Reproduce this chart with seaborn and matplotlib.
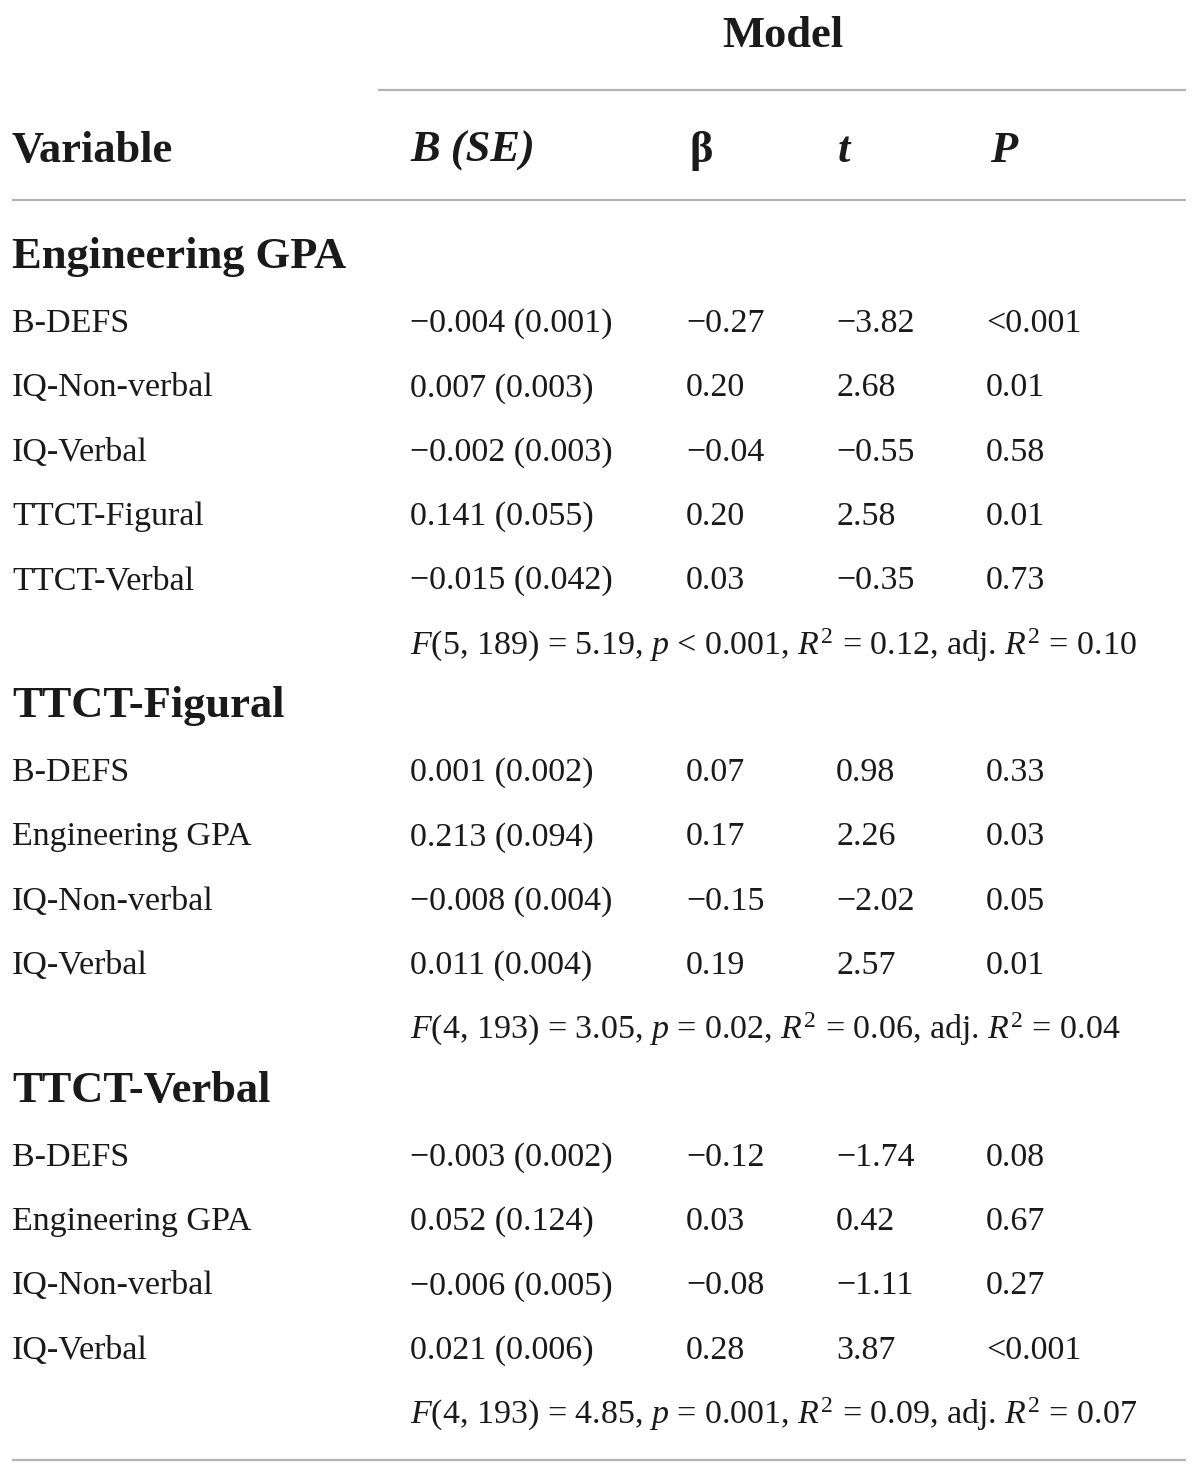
import matplotlib
matplotlib.use("Agg")
import matplotlib.pyplot as plt
import seaborn as sns

# Regression table: three outcome models
HEADERS = ["Variable", "B (SE)", "β", "t", "P"]
MODEL_LABEL = "Model"

SECTIONS = ["Engineering GPA", "TTCT-Figural", "TTCT-Verbal"]

gpa_vars = ["B-DEFS", "IQ-Non-verbal", "IQ-Verbal", "TTCT-Figural", "TTCT-Verbal"]
gpa_b = ["−0.004 (0.001)", "0.007 (0.003)", "−0.002 (0.003)", "0.141 (0.055)", "−0.015 (0.042)"]
gpa_beta = ["−0.27", "0.20", "−0.04", "0.20", "0.03"]
gpa_t = ["−3.82", "2.68", "−0.55", "2.58", "−0.35"]
gpa_p = ["<0.001", "0.01", "0.58", "0.01", "0.73"]
gpa_fit = r"$F$(5, 189) = 5.19, $p$ < 0.001, $R^2$ = 0.12, adj. $R^2$ = 0.10"

fig_vars = ["B-DEFS", "Engineering GPA", "IQ-Non-verbal", "IQ-Verbal"]
fig_b = ["0.001 (0.002)", "0.213 (0.094)", "−0.008 (0.004)", "0.011 (0.004)"]
fig_beta = ["0.07", "0.17", "−0.15", "0.19"]
fig_t = ["0.98", "2.26", "−2.02", "2.57"]
fig_p = ["0.33", "0.03", "0.05", "0.01"]
fig_fit = r"$F$(4, 193) = 3.05, $p$ = 0.02, $R^2$ = 0.06, adj. $R^2$ = 0.04"

verb_vars = ["B-DEFS", "Engineering GPA", "IQ-Non-verbal", "IQ-Verbal"]
verb_b = ["−0.003 (0.002)", "0.052 (0.124)", "−0.006 (0.005)", "0.021 (0.006)"]
verb_beta = ["−0.12", "0.03", "−0.08", "0.28"]
verb_t = ["−1.74", "0.42", "−1.11", "3.87"]
verb_p = ["0.08", "0.67", "0.27", "<0.001"]
verb_fit = r"$F$(4, 193) = 4.85, $p$ = 0.001, $R^2$ = 0.09, adj. $R^2$ = 0.07"

blocks = [
    (SECTIONS[0], gpa_vars, gpa_b, gpa_beta, gpa_t, gpa_p, gpa_fit),
    (SECTIONS[1], fig_vars, fig_b, fig_beta, fig_t, fig_p, fig_fit),
    (SECTIONS[2], verb_vars, verb_b, verb_beta, verb_t, verb_p, verb_fit),
]

sns.set_theme(style="white")
plt.rcParams["font.family"] = ["Liberation Serif", "DejaVu Serif"]
plt.rcParams["mathtext.fontset"] = "custom"
plt.rcParams["mathtext.rm"] = "Liberation Serif"
plt.rcParams["mathtext.it"] = "Liberation Serif:italic"
plt.rcParams["mathtext.bf"] = "Liberation Serif:bold"

TEXT = "#1a1a1a"
RULE = "#b4b4b4"
BODY = 24.5
HEAD = 32

fig = plt.figure(figsize=(12, 14.75), dpi=100)
ax = fig.add_axes([0, 0, 1, 1])
ax.set_xlim(0, 1200)
ax.set_ylim(1475, 0)
ax.axis("off")

col_x = [12, 410, 686, 836, 986]

# header
ax.text(783, 36, MODEL_LABEL, ha="center", va="center", fontsize=HEAD,
        fontweight="bold", color=TEXT)
ax.hlines(90, 378, 1186, color=RULE, lw=1.6)
ax.text(col_x[0], 151, HEADERS[0], ha="left", va="center", fontsize=HEAD,
        fontweight="bold", color=TEXT)
ax.text(col_x[1], 151, HEADERS[1], ha="left", va="center", fontsize=HEAD,
        fontweight="bold", fontstyle="italic", color=TEXT)
ax.text(col_x[2] + 4, 151, HEADERS[2], ha="left", va="center", fontsize=HEAD,
        fontweight="bold", color=TEXT)
ax.text(col_x[3] + 2, 151, HEADERS[3], ha="left", va="center", fontsize=HEAD,
        fontweight="bold", fontstyle="italic", color=TEXT)
ax.text(col_x[4] + 4, 151, HEADERS[4], ha="left", va="center", fontsize=HEAD,
        fontweight="bold", fontstyle="italic", color=TEXT)
ax.hlines(200, 12, 1186, color=RULE, lw=1.6)

ROW = 64.2
y = 257
for title, names, bs, betas, ts, ps, fit in blocks:
    ax.text(col_x[0], y, title, ha="left", va="center", fontsize=HEAD,
            fontweight="bold", color=TEXT)
    y += 67
    for row in zip(names, bs, betas, ts, ps):
        for x, val in zip(col_x, row):
            ax.text(x, y, val, ha="left", va="center", fontsize=BODY, color=TEXT)
        y += ROW
    ax.text(col_x[1], y, fit, ha="left", va="center", fontsize=BODY, color=TEXT)
    y += 61

ax.hlines(1460, 12, 1186, color=RULE, lw=1.6)

fig.savefig("out.png", dpi=100, facecolor="white")
